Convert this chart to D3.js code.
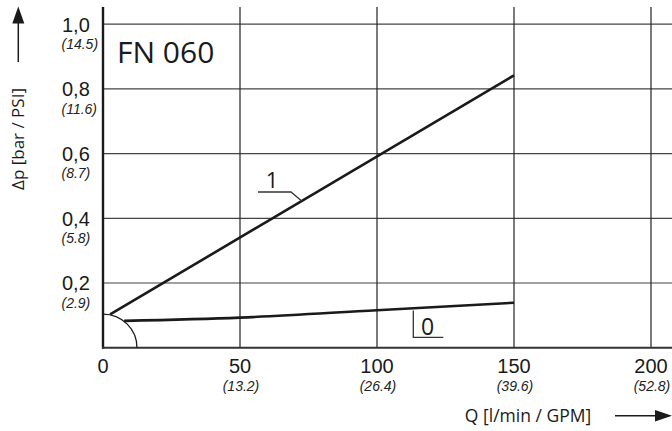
<!DOCTYPE html>
<html><head><meta charset="utf-8">
<script src="https://cdn.jsdelivr.net/npm/d3@7"></script>
<style>
html,body{margin:0;padding:0;background:#fff;}
svg{display:block;font-family:"Open Sans",sans-serif;}
.tk{font-family:"Liberation Sans",Arial,sans-serif;}
</style></head>
<body><svg id="c" width="672" height="431"></svg>
<script>
// ---- data ----
const xTicks = [0, 50, 100, 150, 200];
const xTickLabels = ["0", "50", "100", "150", "200"];
const xSubLabels = ["", "(13.2)", "(26.4)", "(39.6)", "(52.8)"];
const yTicks = [0.2, 0.4, 0.6, 0.8, 1.0];
const yTickLabels = ["0,2", "0,4", "0,6", "0,8", "1,0"];
const ySubLabels = ["(2.9)", "(5.8)", "(8.7)", "(11.6)", "(14.5)"];
const series1 = [[2.6, 0.103], [150, 0.842]];
const series0 = [[7.7, 0.083], [50, 0.093], [100, 0.116], [150, 0.139]];
const arcRadiusQ = 12.4, arcRadiusP = 0.104;
const title = "FN 060";
const xTitle = "Q [l/min / GPM]";
const yTitle = "Δp [bar / PSI]";

// ---- layout ----
const svg = d3.select("#c");
const x = d3.scaleLinear().domain([0, 200]).range([103, 651]);
const y = d3.scaleLinear().domain([0, 1]).range([347.7, 24.2]);
const topY = 7, rightX = 672;
const ink = "#1a1a1a";

// grid
svg.append("g").selectAll("line").data(yTicks).join("line")
  .attr("x1", x(0)).attr("x2", rightX)
  .attr("y1", d => y(d)).attr("y2", d => y(d))
  .attr("stroke", "#444").attr("stroke-width", 1.2);
svg.append("g").selectAll("line").data(xTicks.slice(1)).join("line")
  .attr("x1", d => x(d)).attr("x2", d => x(d))
  .attr("y1", y(0)).attr("y2", topY)
  .attr("stroke", "#222").attr("stroke-width", 1.2);

// axes
svg.append("line").attr("x1", x(0)).attr("x2", x(0)).attr("y1", topY).attr("y2", y(0) + 1)
  .attr("stroke", ink).attr("stroke-width", 2.4);
svg.append("line").attr("x1", x(0) - 1).attr("x2", rightX).attr("y1", y(0)).attr("y2", y(0))
  .attr("stroke", "#333").attr("stroke-width", 2);

// arc at origin
const rx = x(arcRadiusQ) - x(0), ry = y(0) - y(arcRadiusP);
svg.append("path")
  .attr("d", `M${x(0)},${y(0) - ry} A${rx},${ry} 0 0 1 ${x(0) + rx},${y(0)}`)
  .attr("fill", "none").attr("stroke", ink).attr("stroke-width", 1.3);

// series lines
const line = d3.line().x(d => x(d[0])).y(d => y(d[1]));
svg.append("path").datum(series1).attr("d", line)
  .attr("fill", "none").attr("stroke", ink).attr("stroke-width", 2.6);
svg.append("path").datum(series0).attr("d", line.curve(d3.curveMonotoneX))
  .attr("fill", "none").attr("stroke", ink).attr("stroke-width", 2.6);

// label 1 leader (attached to series1 line)
const l1 = series1;
const p1x = 301.7;
const p1y = y(l1[0][1]) + (p1x - x(l1[0][0])) / (x(l1[1][0]) - x(l1[0][0])) * (y(l1[1][1]) - y(l1[0][1]));
svg.append("path").attr("d", `M258,${p1y - 9} L291,${p1y - 9} L${p1x},${p1y}`)
  .attr("fill", "none").attr("stroke", "#333").attr("stroke-width", 1.3);
svg.append("text").attr("x", 272).attr("y", p1y - 12.5).attr("text-anchor", "middle")
  .attr("font-size", 22).attr("fill", ink).text("1");

// label 0 leader
svg.append("path").attr("d", "M413.3,310.5 L413.3,337.3 L443.3,337.3")
  .attr("fill", "none").attr("stroke", "#333").attr("stroke-width", 1.3);
svg.append("text").attr("x", 427.5).attr("y", 335).attr("text-anchor", "middle")
  .attr("font-size", 23).attr("fill", ink).text("0");

// title
svg.append("text").attr("x", 117).attr("y", 63.3).attr("font-size", 30).attr("fill", ink).text(title);

// y tick labels
yTicks.forEach((d, i) => {
  svg.append("text").attr("class", "tk").attr("x", 62).attr("y", y(d) + 7.4).attr("font-size", 20).attr("fill", ink).text(yTickLabels[i]);
  svg.append("text").attr("class", "tk").attr("x", 61.5).attr("y", y(d) + 24.8).attr("font-size", 14).attr("font-style", "italic")
    .attr("fill", "#222").text(ySubLabels[i]);
});
// x tick labels
xTicks.forEach((d, i) => {
  svg.append("text").attr("class", "tk").attr("x", x(d)).attr("y", 373.3).attr("text-anchor", "middle")
    .attr("font-size", 20).attr("fill", ink).text(xTickLabels[i]);
  if (xSubLabels[i]) svg.append("text").attr("class", "tk").attr("x", x(d) + 1).attr("y", 391).attr("text-anchor", "middle")
    .attr("font-size", 14).attr("font-style", "italic").attr("fill", "#222").text(xSubLabels[i]);
});

// axis titles
svg.append("text").attr("x", 528).attr("y", 421.5).attr("text-anchor", "middle")
  .attr("font-size", 17.5).attr("fill", ink).text(xTitle);
svg.append("text").attr("transform", "translate(24,139) rotate(-90)").attr("text-anchor", "middle")
  .attr("font-size", 17).attr("fill", ink).text(yTitle);

// arrows
svg.append("line").attr("x1", 615).attr("x2", 657).attr("y1", 415.7).attr("y2", 415.7)
  .attr("stroke", ink).attr("stroke-width", 1.5);
svg.append("path").attr("d", "M672,415.7 L655,410 L655,421.4 Z").attr("fill", ink);
svg.append("line").attr("x1", 18.3).attr("x2", 18.3).attr("y1", 62).attr("y2", 21)
  .attr("stroke", ink).attr("stroke-width", 1.5);
svg.append("path").attr("d", "M18.3,6.5 L12.3,23.5 L24.3,23.5 Z").attr("fill", ink);
</script></body></html>
